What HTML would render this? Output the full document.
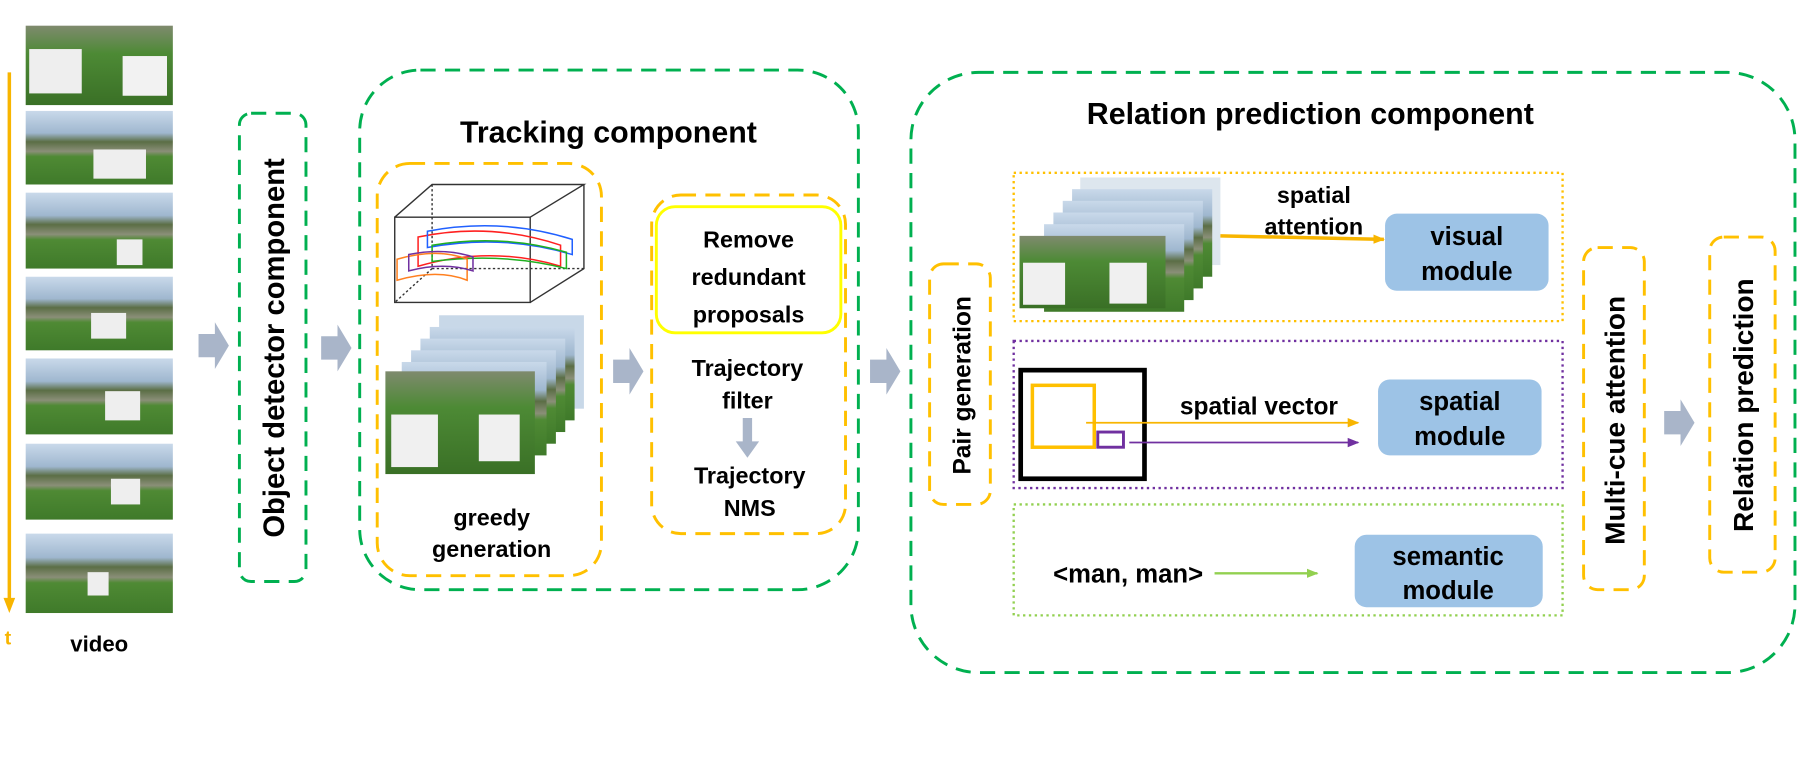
<!DOCTYPE html>
<html><head><meta charset="utf-8"><style>
html,body{margin:0;padding:0;background:#fff;}
svg{display:block;}
text{font-family:"Liberation Sans",sans-serif;fill:#000;}
</style></head><body>
<svg width="1816" height="773" viewBox="0 0 1555 662" preserveAspectRatio="none" xmlns="http://www.w3.org/2000/svg">
<defs>
<linearGradient id="ph" x1="0" y1="0" x2="0" y2="1">
<stop offset="0" stop-color="#c9d9ea"/><stop offset="0.3" stop-color="#9fb7cf"/>
<stop offset="0.42" stop-color="#5b6e45"/><stop offset="0.55" stop-color="#8a8f78"/>
<stop offset="0.62" stop-color="#4f8a34"/><stop offset="1" stop-color="#3f7a2a"/></linearGradient>
<linearGradient id="ph2" x1="0" y1="0" x2="0" y2="1">
<stop offset="0" stop-color="#7f8a6e"/><stop offset="0.35" stop-color="#4d8a35"/><stop offset="1" stop-color="#3a7026"/></linearGradient>
<marker id="ao" markerUnits="userSpaceOnUse" markerWidth="10" markerHeight="10" refX="9" refY="5" orient="auto"><path d="M0,1 L10,5 L0,9z" fill="#f8b500"/></marker>
<marker id="ap" markerUnits="userSpaceOnUse" markerWidth="10" markerHeight="10" refX="9" refY="5" orient="auto"><path d="M0,1 L10,5 L0,9z" fill="#7030a0"/></marker>
<marker id="ag" markerUnits="userSpaceOnUse" markerWidth="10" markerHeight="10" refX="9" refY="5" orient="auto"><path d="M0,1 L10,5 L0,9z" fill="#92d050"/></marker>
<g id="blk"><path d="M0,-10 H14 V-20 L26,0 L14,20 V10 H0z" fill="#a9b5c9"/></g>
</defs>

<line x1="8" y1="62" x2="8" y2="515" stroke="#f8b500" stroke-width="3"/>
<path d="M3,512 L8,525 L13,512z" fill="#f8b500"/>
<text x="4" y="552" font-size="17" font-weight="bold" style="fill:#f8b500">t</text>
<text x="85" y="558" font-size="19" font-weight="bold" text-anchor="middle">video</text>

<rect x="22" y="22" width="126" height="68" fill="url(#ph2)"/>
<rect x="22" y="95" width="126" height="63" fill="url(#ph)"/>
<rect x="22" y="165" width="126" height="65" fill="url(#ph)"/>
<rect x="22" y="237" width="126" height="63" fill="url(#ph)"/>
<rect x="22" y="307" width="126" height="65" fill="url(#ph)"/>
<rect x="22" y="380" width="126" height="65" fill="url(#ph)"/>
<rect x="22" y="457" width="126" height="68" fill="url(#ph)"/>
<rect x="25" y="42" width="45" height="38" fill="#eee"/><rect x="105" y="48" width="38" height="34" fill="#f2f2f2"/>
<rect x="80" y="128" width="45" height="25" fill="#eee"/>
<rect x="100" y="205" width="22" height="22" fill="#eee"/>
<rect x="78" y="268" width="30" height="22" fill="#eee"/>
<rect x="90" y="335" width="30" height="25" fill="#eee"/>
<rect x="95" y="410" width="25" height="22" fill="#eee"/>
<rect x="75" y="490" width="18" height="20" fill="#eee"/>

<use href="#blk" x="170" y="296"/>
<rect x="205" y="97" width="57" height="401" rx="10" fill="none" stroke="#00b050" stroke-width="2.5" stroke-dasharray="13,8"/>
<text transform="translate(243,298) rotate(-90)" font-size="25" font-weight="bold" text-anchor="middle">Object detector component</text>

<use href="#blk" x="275" y="298"/>
<rect x="308" y="60" width="427" height="445" rx="52" fill="none" stroke="#00b050" stroke-width="2.5" stroke-dasharray="13,8"/>
<text x="521" y="122" font-size="26" font-weight="bold" text-anchor="middle">Tracking component</text>
<rect x="323" y="140" width="192" height="353" rx="28" fill="none" stroke="#ffc000" stroke-width="2.5" stroke-dasharray="13,8"/>
<g fill="none" stroke="#333" stroke-width="1.2">
<rect x="338" y="186" width="116" height="73"/>
<path d="M338,186 L370,158 H500 L454,186 M500,158 V230 L454,259"/>
<path d="M370,158 V230 L338,259 M370,230 H500" stroke-dasharray="2,2"/>
</g>
<path d="M358,203 Q420,190 480,210 V228 Q420,210 358,228z" fill="none" stroke="#ff2020" stroke-width="1.3"/>
<path d="M366,198 Q430,186 490,205 V218 Q430,200 366,212z" fill="none" stroke="#2060ff" stroke-width="1.3"/>
<path d="M370,210 Q430,200 485,216 V230 Q430,216 370,224z" fill="none" stroke="#20b020" stroke-width="1.3"/>
<path d="M340,222 Q375,212 400,222 V240 Q375,230 340,240z" fill="none" stroke="#ff8020" stroke-width="1.3"/>
<path d="M350,218 Q380,212 405,220 V232 Q380,224 350,232z" fill="none" stroke="#7030a0" stroke-width="1.3"/>
<g>
<rect x="376" y="270" width="124" height="80" fill="#c8d8e8"/>
<rect x="368" y="280" width="124" height="80" fill="url(#ph)"/>
<rect x="360" y="290" width="124" height="80" fill="url(#ph)"/>
<rect x="352" y="300" width="124" height="80" fill="url(#ph)"/>
<rect x="344" y="310" width="124" height="80" fill="url(#ph)"/>
<rect x="330" y="318" width="128" height="88" fill="url(#ph2)"/>
<rect x="335" y="355" width="40" height="45" fill="#f0f0f0"/><rect x="410" y="355" width="35" height="40" fill="#f0f0f0"/>
</g>
<text x="421" y="450" font-size="20" font-weight="bold" text-anchor="middle">greedy</text>
<text x="421" y="477" font-size="20" font-weight="bold" text-anchor="middle">generation</text>

<use href="#blk" x="525" y="318"/>
<rect x="558" y="167" width="166" height="290" rx="25" fill="none" stroke="#ffc000" stroke-width="2.5" stroke-dasharray="13,8"/>
<rect x="562" y="177" width="158" height="108" rx="16" fill="none" stroke="#ffff00" stroke-width="2.5"/>
<text x="641" y="212" font-size="20" font-weight="bold" text-anchor="middle">Remove</text>
<text x="641" y="244" font-size="20" font-weight="bold" text-anchor="middle">redundant</text>
<text x="641" y="276" font-size="20" font-weight="bold" text-anchor="middle">proposals</text>
<text x="640" y="322" font-size="20" font-weight="bold" text-anchor="middle">Trajectory</text>
<text x="640" y="350" font-size="20" font-weight="bold" text-anchor="middle">filter</text>
<path d="M636,358 H644 V378 H650 L640,392 L630,378 H636z" fill="#a9b5c9"/>
<text x="642" y="414" font-size="20" font-weight="bold" text-anchor="middle">Trajectory</text>
<text x="642" y="442" font-size="20" font-weight="bold" text-anchor="middle">NMS</text>

<use href="#blk" x="745" y="318"/>
<rect x="780" y="62" width="757" height="514" rx="58" fill="none" stroke="#00b050" stroke-width="2.5" stroke-dasharray="13,8"/>
<text x="1122" y="106" font-size="26" font-weight="bold" text-anchor="middle">Relation prediction component</text>
<rect x="796" y="226" width="52" height="206" rx="12" fill="none" stroke="#ffc000" stroke-width="2.5" stroke-dasharray="13,8"/>
<text transform="translate(831,330) rotate(-90)" font-size="21" text-anchor="middle" font-weight="bold">Pair generation</text>

<rect x="868" y="148" width="470" height="127" fill="none" stroke="#ffc000" stroke-width="2" stroke-dasharray="2,3"/>
<g>
<rect x="925" y="152" width="120" height="75" fill="#dde6ee"/>
<rect x="918" y="162" width="120" height="75" fill="url(#ph)"/>
<rect x="910" y="172" width="120" height="75" fill="url(#ph)"/>
<rect x="902" y="182" width="120" height="75" fill="url(#ph)"/>
<rect x="894" y="192" width="120" height="75" fill="url(#ph)"/>
<rect x="873" y="202" width="125" height="62" fill="url(#ph2)"/>
<rect x="876" y="225" width="36" height="36" fill="#f0f0f0"/><rect x="950" y="225" width="32" height="35" fill="#f0f0f0"/>
</g>
<text x="1125" y="174" font-size="20" font-weight="bold" text-anchor="middle">spatial</text>
<text x="1125" y="201" font-size="20" font-weight="bold" text-anchor="middle">attention</text>
<line x1="1045" y1="202" x2="1185" y2="205" stroke="#f8b500" stroke-width="3" marker-end="url(#ao)"/>
<rect x="1186" y="183" width="140" height="66" rx="10" fill="#9dc3e6"/>
<text x="1256" y="210" font-size="22" font-weight="bold" text-anchor="middle">visual</text>
<text x="1256" y="240" font-size="22" font-weight="bold" text-anchor="middle">module</text>

<rect x="868" y="292" width="470" height="126" fill="none" stroke="#7030a0" stroke-width="2" stroke-dasharray="2,3"/>
<rect x="874" y="317" width="106" height="93" fill="none" stroke="#000" stroke-width="4"/>
<rect x="884" y="330" width="53" height="53" fill="none" stroke="#ffc000" stroke-width="3"/>
<rect x="940" y="370" width="22" height="13" fill="none" stroke="#7030a0" stroke-width="2.5"/>
<text x="1078" y="355" font-size="21" font-weight="bold" text-anchor="middle">spatial vector</text>
<line x1="930" y1="362" x2="1163" y2="362" stroke="#f8b500" stroke-width="1.5" marker-end="url(#ao)"/>
<line x1="967" y1="379" x2="1163" y2="379" stroke="#7030a0" stroke-width="1.5" marker-end="url(#ap)"/>
<rect x="1180" y="325" width="140" height="65" rx="10" fill="#9dc3e6"/>
<text x="1250" y="351" font-size="22" font-weight="bold" text-anchor="middle">spatial</text>
<text x="1250" y="381" font-size="22" font-weight="bold" text-anchor="middle">module</text>

<rect x="868" y="432" width="470" height="95" fill="none" stroke="#92d050" stroke-width="2" stroke-dasharray="2,3"/>
<text x="966" y="499" font-size="22" font-weight="bold" text-anchor="middle">&lt;man, man&gt;</text>
<line x1="1040" y1="491" x2="1128" y2="491" stroke="#92d050" stroke-width="2" marker-end="url(#ag)"/>
<rect x="1160" y="458" width="161" height="62" rx="10" fill="#9dc3e6"/>
<text x="1240" y="484" font-size="22" font-weight="bold" text-anchor="middle">semantic</text>
<text x="1240" y="513" font-size="22" font-weight="bold" text-anchor="middle">module</text>

<rect x="1356" y="212" width="52" height="293" rx="12" fill="none" stroke="#ffc000" stroke-width="2.5" stroke-dasharray="13,8"/>
<text transform="translate(1391,360) rotate(-90)" font-size="24" font-weight="bold" text-anchor="middle">Multi-cue attention</text>
<use href="#blk" x="1425" y="362"/>
<rect x="1464" y="203" width="56" height="287" rx="12" fill="none" stroke="#ffc000" stroke-width="2.5" stroke-dasharray="13,8"/>
<text transform="translate(1501,347) rotate(-90)" font-size="24" font-weight="bold" text-anchor="middle">Relation prediction</text>
</svg>
</body></html>
